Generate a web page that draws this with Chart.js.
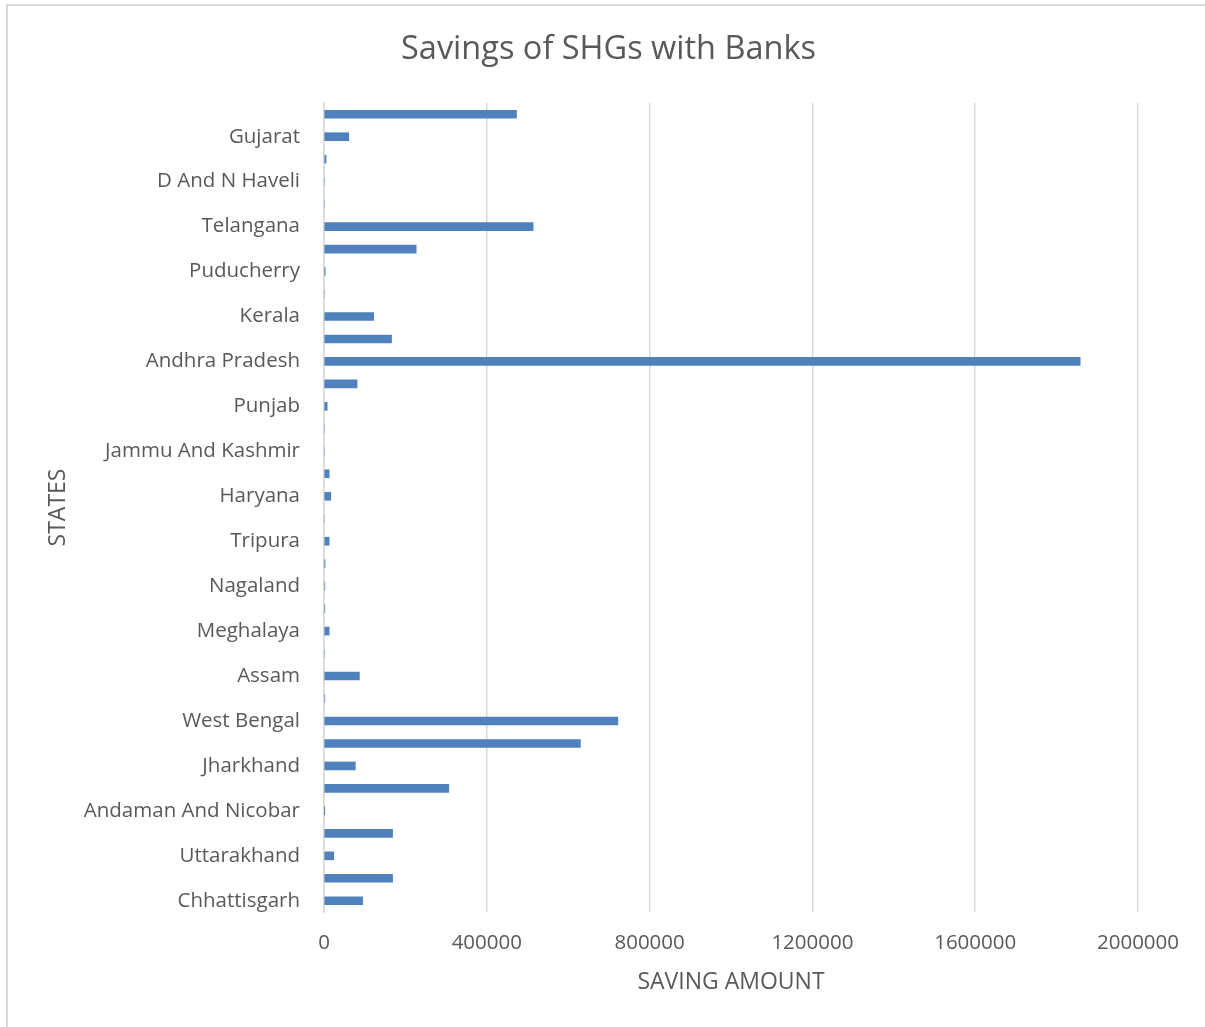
<!DOCTYPE html>
<html>
<head>
<meta charset="utf-8">
<script src="https://cdn.jsdelivr.net/npm/chart.js@4.4.1/dist/chart.umd.min.js"></script>
<style>
  html, body { margin: 0; padding: 0; background: #ffffff; }
  #wrap { position: relative; width: 1205px; height: 1027px; overflow: hidden; }
  #c { position: absolute; left: 0; top: 0; }
  #frame { position: absolute; left: 6px; top: 4px; width: 1210px; height: 1040px;
           border-left: 2px solid #d9d9d9; border-top: 2px solid #d9d9d9; box-sizing: border-box; pointer-events: none; }
</style>
</head>
<body>
<div id="wrap">
  <canvas id="c" width="1205" height="1027"></canvas>
  <div id="frame"></div>
</div>
<script>
// Categories in sheet order (first = bottom of the chart)
const states = [
  "Chhattisgarh", "Madhya Pradesh", "Uttarakhand", "Uttar Pradesh",
  "Andaman And Nicobar", "Bihar", "Jharkhand", "Odisha", "West Bengal",
  "Arunachal Pradesh", "Assam", "Manipur", "Meghalaya", "Mizoram",
  "Nagaland", "Sikkim", "Tripura",
  "Chandigarh", "Haryana", "Himachal Pradesh", "Jammu And Kashmir",
  "New Delhi", "Punjab", "Rajasthan",
  "Andhra Pradesh", "Karnataka", "Kerala", "Lakshadweep", "Puducherry",
  "Tamil Nadu", "Telangana",
  "Daman And Diu", "D And N Haveli", "Goa", "Gujarat", "Maharashtra"
];
const savings = [
  95000, 168500, 24000, 168500,
  1000, 306600, 77000, 630000, 722000,
  2000, 87000, 0, 12700, 2000,
  2000, 2500, 12700,
  0, 16700, 12700, 0,
  0, 7800, 81300,
  1858000, 166000, 122000, 0, 3000,
  226500, 513900,
  0, 0, 5000, 60800, 473000
];
const xTickValues = [0, 400000, 800000, 1200000, 1600000, 2000000];
const chartTitle = "Savings of SHGs with Banks";
const xTitle = "SAVING AMOUNT";
const yTitle = "STATES";

const textColor = "#595959";
const fontFamily = "'Open Sans', 'DejaVu Sans', sans-serif";

// Title centred on the whole canvas (as in the spreadsheet chart)
const pageTitle = {
  id: "pageTitle",
  afterDraw(chart) {
    const ctx = chart.ctx;
    ctx.save();
    ctx.fillStyle = textColor;
    ctx.font = "32.5px " + fontFamily;
    ctx.textAlign = "center";
    ctx.textBaseline = "middle";
    ctx.fillText(chartTitle, chart.width / 2 + 6, 50);
    ctx.restore();
  }
};

new Chart(document.getElementById("c"), {
  type: "bar",
  plugins: [pageTitle],
  data: {
    labels: states,
    datasets: [{
      label: "Savings",
      data: savings,
      backgroundColor: "#4f81bd",
      borderWidth: 0,
      barThickness: 8
    }]
  },
  options: {
    indexAxis: "y",
    responsive: false,
    animation: false,
    events: [],
    layout: { padding: { left: 0, right: 67, top: 103, bottom: 0 } },
    plugins: {
      legend: { display: false },
      tooltip: { enabled: false },
      title: { display: false }
    },
    scales: {
      x: {
        type: "linear",
        min: 0,
        max: 2000000,
        afterBuildTicks: (scale) => { scale.ticks = xTickValues.map(v => ({ value: v })); },
        afterFit: (scale) => { scale.height = 115; },
        grid: { color: "#d9d9d9", lineWidth: 1.5, drawTicks: false },
        border: { display: false },
        ticks: {
          color: textColor,
          font: { family: fontFamily, size: 20.5 },
          padding: 19,
          maxRotation: 0,
          callback: (v) => String(v)
        },
        title: {
          display: true,
          text: xTitle,
          color: textColor,
          font: { family: fontFamily, size: 23, lineHeight: 1.2 },
          padding: { top: 0, bottom: 31.2 }
        }
      },
      y: {
        type: "category",
        reverse: true,
        afterFit: (scale) => { scale.width = 324; },
        grid: { display: false, drawTicks: false },
        border: { display: true, color: "#d9d9d9", width: 1.5 },
        ticks: {
          autoSkip: false,
          color: textColor,
          font: { family: fontFamily, size: 20.5 },
          padding: 24,
          callback: function (val, index) { return index % 2 === 0 ? states[index] : ""; }
        },
        title: {
          display: true,
          text: yTitle,
          color: textColor,
          font: { family: fontFamily, size: 23, lineHeight: 1.2 },
          padding: { top: 44.2, bottom: 0 }
        }
      }
    }
  }
});
</script>
</body>
</html>
